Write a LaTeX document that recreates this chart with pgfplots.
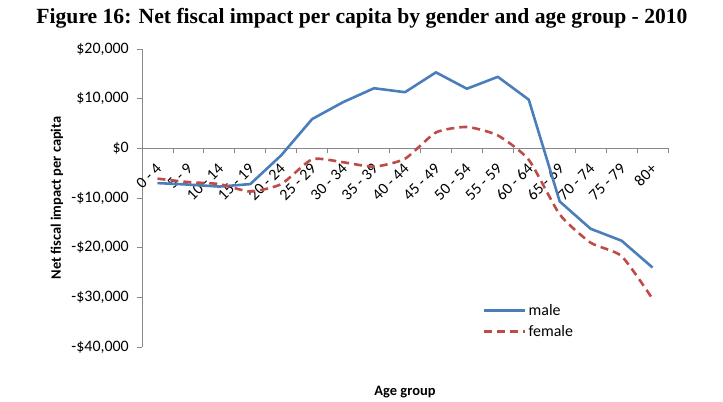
\documentclass[border=0pt]{standalone}
\usepackage{fontspec}
\setmainfont{Carlito}
\newfontfamily\titlefont{Liberation Serif}
\usepackage{pgfplots}
\pgfplotsset{compat=1.18}
\definecolor{maleblue}{HTML}{4A7EBB}
\definecolor{femred}{HTML}{BE4B48}
\definecolor{axgray}{HTML}{888888}
\begin{document}
\begin{tikzpicture}
\useasboundingbox (-142bp,-55bp) rectangle (581bp,347bp);
\node at (220bp,329bp) {\resizebox{651bp}{!}{\titlefont\bfseries Figure 16: Net fiscal impact per capita by gender and age group - 2010}};
\begin{axis}[
  at={(0bp,0bp)}, anchor=south west,
  scale only axis, width=526bp, height=298bp,
  xmin=-0.5, xmax=16.5, ymin=-40000, ymax=20000,
  axis x line=middle, axis y line=left,
  axis line style={axgray, line width=0.8pt, -},
  xtick={0,...,16},
  xticklabels={0 - 4, 5 - 9, 10 - 14, 15 - 19, 20 - 24, 25 - 29, 30 - 34, 35 - 39, 40 - 44, 45 - 49, 50 - 54, 55 - 59, 60 - 64, 65 - 69, 70 - 74, 75 - 79, 80+},
  minor xtick={-0.5,0.5,...,16.5},
  ytick={-40000,-30000,...,20000},
  minor ytick={-40000,-30000,...,20000},
  yticklabels={{-\$40,000},{-\$30,000},{-\$20,000},{-\$10,000},{\$0},{\$10,000},{\$20,000}},
  major tick length=0pt, minor tick length=5bp,
  tick align=outside,
  every tick/.style={axgray, line width=0.8pt},
  xticklabel style={rotate=45, anchor=east, font=\fontsize{16}{18}\selectfont, inner sep=1bp, xshift=-10.5bp, yshift=-13.5bp},
  yticklabel style={font=\fontsize{16}{18}\selectfont, inner sep=0pt, xshift=-13bp},
  scaled y ticks=false,
  clip=false,
  xlabel={\bfseries Age group},
  ylabel={\bfseries Net fiscal impact per capita},
  xlabel style={font=\fontsize{14.5}{16}\selectfont, at={(axis description cs:0.5,0)}, anchor=center, yshift=-45bp},
  ylabel style={font=\fontsize{14.5}{16}\selectfont, at={(axis description cs:-0.1616,0.5)}, anchor=center},
  legend style={at={(axis description cs:0.648,0.150)}, anchor=north west, draw=none, fill=none,
    font=\fontsize{16}{18}\selectfont, row sep=4bp, inner sep=0pt},
  legend cell align=left,
  legend image code/.code={\draw[#1] (0bp,0bp) -- (41bp,0bp);},
]
\addplot[maleblue, line width=2.6pt, line join=round] coordinates {
(0,-7000) (1,-7300) (2,-7700) (3,-7200) (4,-1400) (5,5900) (6,9300) (7,12100)
(8,11300) (9,15300) (10,12000) (11,14400) (12,9800) (13,-10700) (14,-16200)
(15,-18600) (16,-24000)};
\addlegendentry{male}
\addplot[femred, line width=2.6pt, dash pattern=on 8bp off 5bp, smooth, tension=0.35] coordinates {
(0,-6100) (1,-6800) (2,-7200) (3,-8700) (4,-7200) (5,-2200) (6,-2800) (7,-3700)
(8,-2100) (9,3200) (10,4300) (11,2600) (12,-2300) (13,-13300) (14,-19000)
(15,-21700) (16,-30300)};
\addlegendentry{female}
\end{axis}
\end{tikzpicture}
\end{document}
